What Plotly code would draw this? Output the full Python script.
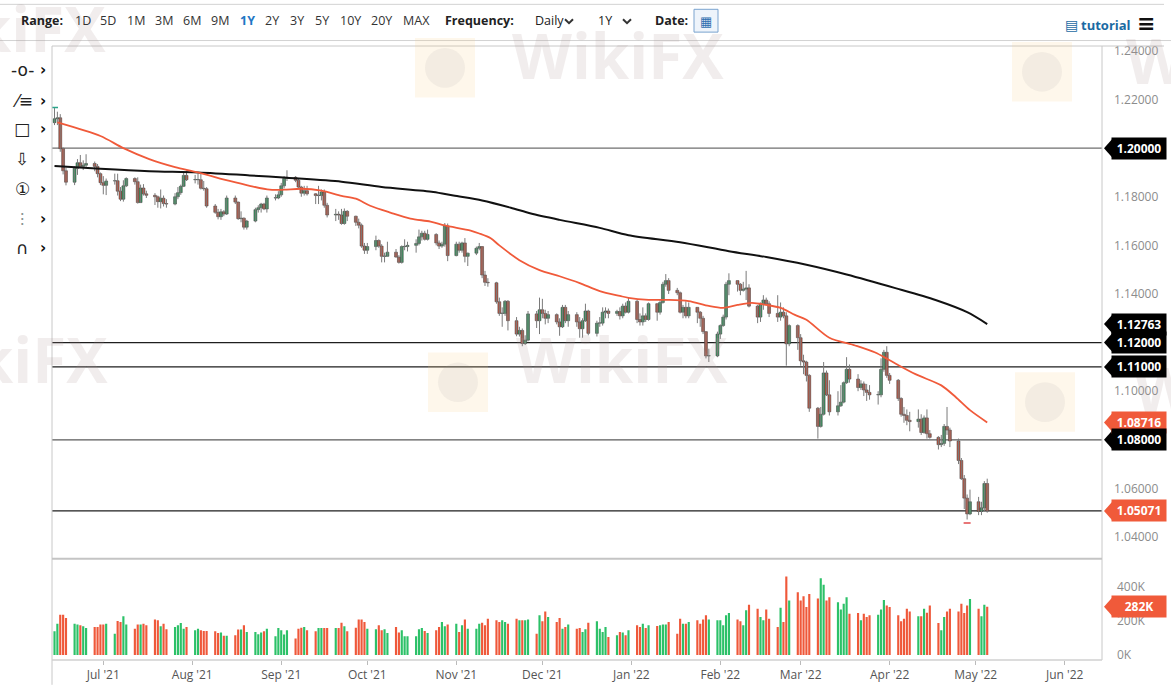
import plotly.graph_objects as go
import pandas as pd

# ---------------- DATA ----------------
START_DATE = "2021-06-14"
END_DATE = "2022-05-05"

opens = [
    # Jun 2021
    1.2105, 1.2121, 1.2125, 1.1998, 1.1907, 1.1860, 1.1917, 1.1940, 1.1925, 1.1930, 1.1937, 1.1925, 1.1895,
    # Jul
    1.1858, 1.1847, 1.1865, 1.1866, 1.1823, 1.1790, 1.1845, 1.1875, 1.1862, 1.1776, 1.1836, 1.1812, 1.1806,
    1.1800, 1.1780, 1.1794, 1.1772, 1.1770, 1.1800, 1.1817, 1.1843, 1.1888,
    # Aug
    1.1870, 1.1870, 1.1870, 1.1835, 1.1833, 1.1762, 1.1736, 1.1718, 1.1738, 1.1729, 1.1795, 1.1778, 1.1710,
    1.1712, 1.1675, 1.1700, 1.1747, 1.1755, 1.1770, 1.1750, 1.1795, 1.1795,
    # Sep
    1.1808, 1.1845, 1.1875, 1.1880, 1.1868, 1.1840, 1.1815, 1.1825, 1.1812, 1.1805, 1.1805, 1.1820, 1.1765,
    1.1725, 1.1728, 1.1725, 1.1690, 1.1740, 1.1720, 1.1695, 1.1683, 1.1597,
    # Oct
    1.1580, 1.1595, 1.1620, 1.1597, 1.1555, 1.1555, 1.1572, 1.1552, 1.1530, 1.1595, 1.1595, 1.1600, 1.1608,
    1.1635, 1.1650, 1.1625, 1.1645, 1.1610, 1.1597, 1.1605, 1.1680,
    # Nov
    1.1558, 1.1605, 1.1580, 1.1610, 1.1555, 1.1568, 1.1588, 1.1595, 1.1478, 1.1448, 1.1446, 1.1368, 1.1320,
    1.1320, 1.1370, 1.1290, 1.1235, 1.1250, 1.1196, 1.1210, 1.1318, 1.1290,
    # Dec
    1.1335, 1.1320, 1.1300, 1.1315, 1.1285, 1.1265, 1.1345, 1.1290, 1.1315, 1.1285, 1.1257, 1.1290, 1.1330,
    1.1238, 1.1280, 1.1280, 1.1325, 1.1330, 1.1320, 1.1328, 1.1310, 1.1350, 1.1325,
    # Jan 2022
    1.1370, 1.1295, 1.1285, 1.1310, 1.1295, 1.1360, 1.1325, 1.1365, 1.1440, 1.1455, 1.1415, 1.1405, 1.1325,
    1.1345, 1.1310, 1.1345, 1.1325, 1.1300, 1.1245, 1.1145, 1.1145,
    # Feb
    1.1235, 1.1270, 1.1305, 1.1440, 1.1455, 1.1440, 1.1415, 1.1420, 1.1425, 1.1350, 1.1305, 1.1360, 1.1375,
    1.1360, 1.1320, 1.1305, 1.1325, 1.1310, 1.1195, 1.1270,
    # Mar
    1.1220, 1.1125, 1.1120, 1.1065, 1.0930, 1.0855, 1.0905, 1.1075, 1.0985, 1.0915, 1.0940, 1.0955, 1.1035,
    1.1090, 1.1050, 1.1015, 1.1030, 1.1005, 1.0995, 1.0985, 1.0985, 1.1090, 1.1160,
    # Apr
    1.1065, 1.1045, 1.0970, 1.0905, 1.0900, 1.0880, 1.0875, 1.0885, 1.0830, 1.0890, 1.0825, 1.0810, 1.0780,
    1.0785, 1.0855, 1.0840, 1.0795, 1.0715, 1.0640, 1.0560, 1.0495,
    # May
    1.0545, 1.0505, 1.0520, 1.0620,
]

highs = [
    1.2165, 1.2150, 1.2140, 1.2003, 1.1920, 1.1925, 1.1955, 1.1972, 1.1950, 1.1975, 1.1945, 1.1935, 1.1900,
    1.1885, 1.1875, 1.1895, 1.1895, 1.1840, 1.1868, 1.1880, 1.1880, 1.1880, 1.1850, 1.1852, 1.1825, 1.1815,
    1.1805, 1.1830, 1.1805, 1.1790, 1.1815, 1.1840, 1.1850, 1.1905, 1.1908,
    1.1890, 1.1895, 1.1900, 1.1865, 1.1840, 1.1770, 1.1750, 1.1750, 1.1745, 1.1805, 1.1805, 1.1780, 1.1740,
    1.1715, 1.1705, 1.1755, 1.1765, 1.1775, 1.1775, 1.1805, 1.1810, 1.1823,
    1.1857, 1.1885, 1.1909, 1.1885, 1.1875, 1.1845, 1.1845, 1.1845, 1.1815, 1.1845, 1.1830, 1.1830, 1.1775,
    1.1750, 1.1740, 1.1750, 1.1752, 1.1745, 1.1722, 1.1710, 1.1690, 1.1610,
    1.1610, 1.1640, 1.1625, 1.1605, 1.1570, 1.1615, 1.1585, 1.1560, 1.1600, 1.1625, 1.1615, 1.1625, 1.1665,
    1.1660, 1.1660, 1.1665, 1.1650, 1.1620, 1.1615, 1.1692, 1.1690,
    1.1615, 1.1615, 1.1615, 1.1630, 1.1570, 1.1595, 1.1610, 1.1595, 1.1495, 1.1465, 1.1450, 1.1385, 1.1345,
    1.1375, 1.1375, 1.1305, 1.1265, 1.1258, 1.1230, 1.1330, 1.1330, 1.1385,
    1.1380, 1.1335, 1.1330, 1.1320, 1.1300, 1.1355, 1.1355, 1.1330, 1.1325, 1.1305, 1.1300, 1.1360, 1.1335,
    1.1290, 1.1305, 1.1345, 1.1345, 1.1340, 1.1335, 1.1345, 1.1360, 1.1365, 1.1385,
    1.1375, 1.1320, 1.1345, 1.1320, 1.1365, 1.1360, 1.1375, 1.1450, 1.1482, 1.1465, 1.1425, 1.1410, 1.1355,
    1.1370, 1.1365, 1.1345, 1.1330, 1.1310, 1.1245, 1.1175, 1.1245,
    1.1275, 1.1315, 1.1450, 1.1485, 1.1455, 1.1445, 1.1450, 1.1495, 1.1440, 1.1355, 1.1365, 1.1395, 1.1385,
    1.1370, 1.1395, 1.1365, 1.1345, 1.1325, 1.1275, 1.1275,
    1.1235, 1.1150, 1.1125, 1.1070, 1.0935, 1.0935, 1.1120, 1.1085, 1.1045, 1.1000, 1.1025, 1.1040, 1.1140,
    1.1110, 1.1070, 1.1045, 1.1040, 1.1030, 1.1025, 1.1000, 1.1135, 1.1170, 1.1185,
    1.1075, 1.1050, 1.0975, 1.0935, 1.0925, 1.0915, 1.0925, 1.0905, 1.0900, 1.0925, 1.0840, 1.0815, 1.0820,
    1.0865, 1.0935, 1.0850, 1.0805, 1.0725, 1.0655, 1.0575, 1.0595,
    1.0565, 1.0545, 1.0630, 1.0640,
]

lows = [
    1.2095, 1.2095, 1.1985, 1.1892, 1.1847, 1.1848, 1.1890, 1.1920, 1.1910, 1.1920, 1.1905, 1.1880, 1.1848,
    1.1810, 1.1807, 1.1850, 1.1805, 1.1782, 1.1780, 1.1840, 1.1850, 1.1772, 1.1775, 1.1805, 1.1795, 1.1766,
    1.1755, 1.1752, 1.1760, 1.1755, 1.1765, 1.1790, 1.1808, 1.1840, 1.1865,
    1.1855, 1.1850, 1.1830, 1.1825, 1.1755, 1.1730, 1.1707, 1.1705, 1.1720, 1.1725, 1.1770, 1.1705, 1.1695,
    1.1665, 1.1665, 1.1695, 1.1735, 1.1735, 1.1745, 1.1735, 1.1785, 1.1790,
    1.1800, 1.1835, 1.1865, 1.1860, 1.1835, 1.1800, 1.1805, 1.1805, 1.1770, 1.1770, 1.1785, 1.1755, 1.1715,
    1.1700, 1.1705, 1.1685, 1.1685, 1.1700, 1.1680, 1.1670, 1.1590, 1.1565,
    1.1565, 1.1580, 1.1590, 1.1530, 1.1530, 1.1555, 1.1550, 1.1525, 1.1525, 1.1580, 1.1575, 1.1570, 1.1600,
    1.1620, 1.1620, 1.1620, 1.1600, 1.1585, 1.1590, 1.1595, 1.1535,
    1.1555, 1.1570, 1.1570, 1.1530, 1.1515, 1.1560, 1.1580, 1.1465, 1.1433, 1.1430, 1.1360, 1.1310, 1.1265,
    1.1310, 1.1250, 1.1226, 1.1225, 1.1185, 1.1190, 1.1205, 1.1260, 1.1235,
    1.1300, 1.1275, 1.1280, 1.1275, 1.1228, 1.1260, 1.1280, 1.1265, 1.1265, 1.1220, 1.1220, 1.1285, 1.1230,
    1.1225, 1.1265, 1.1270, 1.1300, 1.1300, 1.1310, 1.1295, 1.1300, 1.1320, 1.1320,
    1.1280, 1.1270, 1.1270, 1.1285, 1.1290, 1.1290, 1.1315, 1.1360, 1.1430, 1.1400, 1.1395, 1.1320, 1.1300,
    1.1300, 1.1300, 1.1280, 1.1265, 1.1235, 1.1135, 1.1120, 1.1140,
    1.1215, 1.1265, 1.1295, 1.1395, 1.1410, 1.1395, 1.1410, 1.1375, 1.1345, 1.1280, 1.1285, 1.1335, 1.1355,
    1.1305, 1.1285, 1.1290, 1.1300, 1.1105, 1.1185, 1.1170,
    1.1105, 1.1070, 1.1040, 1.0915, 1.0805, 1.0850, 1.0900, 1.0980, 1.0900, 1.0900, 1.0935, 1.0950, 1.1030,
    1.1035, 1.1000, 1.1005, 1.0980, 1.0960, 1.0965, 1.0945, 1.0975, 1.1080, 1.1055,
    1.1030, 1.0960, 1.0895, 1.0870, 1.0860, 1.0835, 1.0850, 1.0820, 1.0825, 1.0805, 1.0805, 1.0760, 1.0770,
    1.0775, 1.0820, 1.0770, 1.0700, 1.0635, 1.0515, 1.0472, 1.0490,
    1.0490, 1.0490, 1.0505, 1.0500,
]

closes = [
    1.2121, 1.2125, 1.1998, 1.1907, 1.1860, 1.1917, 1.1940, 1.1925, 1.1930, 1.1937, 1.1925, 1.1895, 1.1858,
    1.1847, 1.1865, 1.1866, 1.1823, 1.1790, 1.1845, 1.1875, 1.1862, 1.1776, 1.1836, 1.1812, 1.1806, 1.1800,
    1.1780, 1.1794, 1.1772, 1.1770, 1.1800, 1.1817, 1.1843, 1.1888, 1.1870,
    1.1870, 1.1870, 1.1835, 1.1833, 1.1762, 1.1736, 1.1718, 1.1738, 1.1729, 1.1795, 1.1778, 1.1710, 1.1712,
    1.1675, 1.1700, 1.1747, 1.1755, 1.1770, 1.1750, 1.1795, 1.1795, 1.1808,
    1.1845, 1.1875, 1.1880, 1.1868, 1.1840, 1.1815, 1.1825, 1.1812, 1.1805, 1.1805, 1.1820, 1.1765, 1.1725,
    1.1728, 1.1725, 1.1690, 1.1740, 1.1720, 1.1695, 1.1683, 1.1597, 1.1580,
    1.1595, 1.1620, 1.1597, 1.1555, 1.1555, 1.1572, 1.1552, 1.1530, 1.1595, 1.1595, 1.1600, 1.1608, 1.1635,
    1.1650, 1.1625, 1.1645, 1.1610, 1.1597, 1.1605, 1.1680, 1.1558,
    1.1605, 1.1580, 1.1610, 1.1555, 1.1568, 1.1588, 1.1595, 1.1478, 1.1448, 1.1446, 1.1368, 1.1320, 1.1320,
    1.1370, 1.1290, 1.1235, 1.1250, 1.1196, 1.1210, 1.1318, 1.1290, 1.1335,
    1.1320, 1.1300, 1.1315, 1.1285, 1.1265, 1.1345, 1.1290, 1.1315, 1.1285, 1.1257, 1.1290, 1.1330, 1.1238,
    1.1280, 1.1280, 1.1325, 1.1330, 1.1320, 1.1328, 1.1310, 1.1350, 1.1325, 1.1370,
    1.1295, 1.1285, 1.1310, 1.1295, 1.1360, 1.1325, 1.1365, 1.1440, 1.1455, 1.1415, 1.1405, 1.1325, 1.1345,
    1.1310, 1.1345, 1.1325, 1.1300, 1.1245, 1.1145, 1.1145, 1.1235,
    1.1270, 1.1305, 1.1440, 1.1455, 1.1440, 1.1415, 1.1420, 1.1425, 1.1350, 1.1305, 1.1360, 1.1375, 1.1360,
    1.1320, 1.1305, 1.1325, 1.1310, 1.1195, 1.1270, 1.1220,
    1.1125, 1.1120, 1.1065, 1.0930, 1.0855, 1.0905, 1.1075, 1.0985, 1.0915, 1.0940, 1.0955, 1.1035, 1.1090,
    1.1050, 1.1015, 1.1030, 1.1005, 1.0995, 1.0985, 1.0985, 1.1090, 1.1160, 1.1065,
    1.1045, 1.0970, 1.0905, 1.0900, 1.0880, 1.0875, 1.0885, 1.0830, 1.0890, 1.0825, 1.0810, 1.0780, 1.0785,
    1.0855, 1.0840, 1.0795, 1.0715, 1.0640, 1.0560, 1.0495, 1.0545,
    1.0505, 1.0520, 1.0620, 1.05071,
]

volumes_k = [
    139, 183, 235, 235, 216, 183, 178, 174, 168, 158,
    164, 164, 179, 179, 183, 125, 199, 193, 226, 179,
    154, 179, 179, 183, 174, 208, 203, 168, 183, 151,
    164, 174, 187, 154, 164, 145, 154, 145, 141, 141,
    139, 129, 131, 112, 112, 116, 149, 149, 174, 135,
    135, 122, 131, 139, 154, 110, 158, 145, 120, 145,
    97, 154, 160, 164, 145, 139, 158, 158, 158, 158,
    158, 158, 189, 168, 139, 160, 207, 207, 193, 154,
    151, 174, 145, 151, 129, 164, 131, 145, 110, 110,
    110, 151, 158, 141, 129, 145, 164, 193, 168, 178,
    183, 135, 174, 207, 154, 154, 183, 189, 174, 212,
    203, 193, 203, 193, 183,
    212, 203, 203, 203, 208, 125, 232, 197, 255, 222,
    193, 216, 154, 164, 178, 154, 158, 135, 151, 189,
    197, 154, 135, 164, 106, 116, 135, 131, 116, 145,
    174, 164, 183, 158, 174, 170, 174, 178, 178, 193,
    125, 212, 183, 183, 193, 203, 183, 208, 232, 207,
    203, 203, 174, 232, 245, 208, 197, 174, 261, 293,
    270, 222, 203, 266, 212, 164, 276, 193, 459, 318,
    367, 318, 344, 280, 357, 330, 448, 411, 318, 338,
    309, 266, 299, 338, 241, 245, 203, 241, 222, 232,
    235, 266, 322, 290, 280, 232, 197, 212, 270, 255,
    226, 226, 270, 247, 290, 187, 145, 222, 255, 270,
    255, 299, 245, 290, 328, 270, 226, 293, 282,
]

ma50_dates = [
    "2021-06-15", "2021-06-30", "2021-07-08", "2021-07-17", "2021-07-26", "2021-08-03", "2021-08-14",
    "2021-08-21", "2021-08-28", "2021-09-02", "2021-09-08", "2021-09-15", "2021-09-22", "2021-09-27",
    "2021-10-02", "2021-10-09", "2021-10-16", "2021-10-23", "2021-10-28", "2021-11-06", "2021-11-09",
    "2021-11-13", "2021-11-16", "2021-11-23", "2021-11-30", "2021-12-07", "2021-12-14", "2021-12-21",
    "2021-12-28", "2021-12-31", "2022-01-07", "2022-01-14", "2022-01-21", "2022-01-28", "2022-02-02",
    "2022-02-07", "2022-02-12", "2022-02-17", "2022-02-22", "2022-02-27", "2022-03-03", "2022-03-11",
    "2022-03-20", "2022-03-27", "2022-04-01", "2022-04-10", "2022-04-19", "2022-04-24", "2022-04-29",
    "2022-05-05",
]
ma50_values = [
    1.2106, 1.2050, 1.2000, 1.1955, 1.1922, 1.1900, 1.1865, 1.1845, 1.1829, 1.1829, 1.1833, 1.1825,
    1.1804, 1.1792, 1.1763, 1.1735, 1.1710, 1.1698, 1.1682, 1.1661, 1.1649, 1.1629, 1.1600, 1.1539,
    1.1498, 1.1473, 1.1445, 1.1412, 1.1392, 1.1384, 1.1376, 1.1376, 1.1371, 1.1351, 1.1343, 1.1355,
    1.1363, 1.1355, 1.1343, 1.1314, 1.1294, 1.1220, 1.1188, 1.1159, 1.1127, 1.1070, 1.1024, 1.0976,
    1.0922, 1.08716,
]

ma200_dates = [
    "2021-06-14", "2021-06-30", "2021-07-17", "2021-08-03", "2021-08-21", "2021-09-03", "2021-09-22",
    "2021-10-06", "2021-10-24", "2021-10-31", "2021-11-10", "2021-11-20", "2021-11-27", "2021-12-07",
    "2021-12-21", "2021-12-31", "2022-01-18", "2022-02-04", "2022-02-17", "2022-03-03", "2022-03-17",
    "2022-04-03", "2022-04-17", "2022-04-28", "2022-05-05",
]
ma200_values = [
    1.1927, 1.1915, 1.1905, 1.1900, 1.1888, 1.1878, 1.1862, 1.1840, 1.1820, 1.1805, 1.1785, 1.1755,
    1.1731, 1.1705, 1.1672, 1.1642, 1.1613, 1.1576, 1.1552, 1.1520, 1.1480, 1.1424, 1.1375, 1.1325,
    1.12763,
]

level_lines = [1.20, 1.12, 1.11, 1.08]
level_colors = ["#6f6f6f", "#1e1e1e", "#1e1e1e", "#5a5a5a"]
last_price = 1.05071
last_volume_k = 282
period_high = ("2021-06-14", 1.2167)
period_low = ("2022-04-28", 1.0458)

price_ticks = [1.04, 1.06, 1.08, 1.10, 1.12, 1.14, 1.16, 1.18, 1.20, 1.22, 1.24]
volume_ticks = [0, 200, 400]
range_buttons = ["1D", "5D", "1M", "3M", "6M", "9M", "1Y", "2Y", "3Y", "5Y", "10Y", "20Y", "MAX"]

# ---------------- FIGURE ----------------
dates = pd.bdate_range(START_DATE, END_DATE)
assert len(dates) == len(opens) == len(highs) == len(lows) == len(closes) == len(volumes_k), (
    len(dates), len(opens), len(highs), len(lows), len(closes), len(volumes_k))

W, H = 1171, 695
ML, MR, MT, MB = 52, 69, 46, 30
PW, PH = W - ML - MR, H - MT - MB
VOL_TOP = 563  # pixel y of the price / volume split
DAY_MS = 86400000


def px(x):
    return (x - ML) / PW


def py(y):
    return (H - MB - y) / PH


vol_split = py(VOL_TOP)
FONT = "Open Sans, DejaVu Sans, sans-serif"
GREEN_C, RED_C = "#2f9d5c", "#c9503a"
GREEN_V, RED_V = "#2cc168", "#ef583a"
MA50_C = "#f05a3a"

fig = go.Figure()

# candle wicks
wx, wy = [], []
for d, h, l in zip(dates, highs, lows):
    wx += [d, d, None]
    wy += [l, h, None]
fig.add_trace(go.Scatter(x=wx, y=wy, mode="lines", line=dict(color="#7a7a7a", width=1),
                         xaxis="x", yaxis="y", hoverinfo="skip", connectgaps=False))

# candle bodies
body_base = [min(o, c) for o, c in zip(opens, closes)]
body_len = [max(abs(c - o), 0.00012) for o, c in zip(opens, closes)]
body_col = [GREEN_C if c >= o else RED_C for o, c in zip(opens, closes)]
fig.add_trace(go.Bar(x=dates, y=body_len, base=body_base, width=DAY_MS * 1.0,
                     marker=dict(color=body_col, line=dict(color="#444444", width=0.6)),
                     xaxis="x", yaxis="y", hoverinfo="skip"))

fig.add_trace(go.Scatter(x=pd.to_datetime(ma200_dates), y=ma200_values, mode="lines",
                         line=dict(color="#111111", width=2, shape="spline", smoothing=0.8),
                         xaxis="x", yaxis="y", hoverinfo="skip"))
fig.add_trace(go.Scatter(x=pd.to_datetime(ma50_dates), y=ma50_values, mode="lines",
                         line=dict(color=MA50_C, width=1.8, shape="spline", smoothing=0.8),
                         xaxis="x", yaxis="y", hoverinfo="skip"))

fig.add_trace(go.Scatter(x=[period_high[0]], y=[period_high[1]], mode="markers",
                         marker=dict(symbol="line-ew", size=5, line=dict(color="#2aa58a", width=1.5)),
                         xaxis="x", yaxis="y", hoverinfo="skip"))
fig.add_trace(go.Scatter(x=[period_low[0]], y=[period_low[1]], mode="markers",
                         marker=dict(symbol="line-ew", size=5, line=dict(color="#e0484a", width=1.5)),
                         xaxis="x", yaxis="y", hoverinfo="skip"))

vol_colors = [GREEN_V if c >= o else RED_V for o, c in zip(opens, closes)]
fig.add_trace(go.Bar(x=dates, y=volumes_k, width=DAY_MS * 0.75,
                     marker=dict(color=vol_colors, line=dict(width=0)),
                     xaxis="x", yaxis="y2", hoverinfo="skip"))

shapes = []
for lv, col in zip(level_lines, level_colors):
    shapes.append(dict(type="line", xref="paper", yref="y", x0=0, x1=1, y0=lv, y1=lv,
                       line=dict(color=col, width=1.3), layer="below"))
shapes.append(dict(type="line", xref="paper", yref="y", x0=0, x1=1, y0=last_price, y1=last_price,
                   line=dict(color="#1e1e1e", width=1.3), layer="below"))

border = "#c8c8c8"
shapes += [
    dict(type="line", xref="paper", yref="paper", x0=px(0), x1=px(1164), y0=py(4), y1=py(4),
         line=dict(color="#d2d2d2", width=1)),
    dict(type="line", xref="paper", yref="paper", x0=px(0), x1=px(1171), y0=py(40.5), y1=py(40.5),
         line=dict(color="#d2d2d2", width=1)),
    dict(type="line", xref="paper", yref="paper", x0=0, x1=px(1164), y0=1, y1=1,
         line=dict(color=border, width=1)),
    dict(type="line", xref="paper", yref="paper", x0=0, x1=0, y0=py(690), y1=1,
         line=dict(color=border, width=1)),
    dict(type="line", xref="paper", yref="paper", x0=1, x1=1, y0=0, y1=1,
         line=dict(color=border, width=1)),
    dict(type="line", xref="paper", yref="paper", x0=0, x1=1, y0=vol_split, y1=vol_split,
         line=dict(color="#c4c4c4", width=2)),
    dict(type="line", xref="paper", yref="paper", x0=0, x1=1, y0=0, y1=0,
         line=dict(color="#d0d0d0", width=1.5)),
]

for cx, cy in [(445, 68), (458, 385), (1042, 72), (1045, 405)]:
    shapes.append(dict(type="rect", xref="paper", yref="paper",
                       x0=px(cx - 30), x1=px(cx + 30), y0=py(cy + 30), y1=py(cy - 30),
                       fillcolor="rgba(250,205,130,0.16)", line=dict(width=0), layer="above"))
    shapes.append(dict(type="circle", xref="paper", yref="paper",
                       x0=px(cx - 20), x1=px(cx + 20), y0=py(cy + 20), y1=py(cy - 20),
                       fillcolor="rgba(150,150,150,0.10)", line=dict(width=0), layer="above"))

annotations = []
for cx, cy in [(618, 55), (0, 28), (1232, 60), (622, 362), (2, 362), (1240, 392)]:
    annotations.append(dict(xref="paper", yref="paper", x=px(cx), y=py(cy), text="<b>WikiFX</b>",
                            showarrow=False, font=dict(family=FONT, size=62, color="rgba(170,150,150,0.17)"),
                            xanchor="center", yanchor="middle"))


def tag(value, yref, color, text):
    shapes.append(dict(type="path", xref="paper", yref=yref, xsizemode="pixel", ysizemode="pixel",
                       xanchor=1, yanchor=value, path="M 2,0 L 10,9 L 10,-9 Z",
                       fillcolor=color, line=dict(width=0), layer="above"))
    annotations.append(dict(xref="paper", yref=yref, x=px(1111), y=value, text=f"<b>{text}</b>",
                            showarrow=False, xanchor="left", yanchor="middle", bgcolor=color,
                            font=dict(family=FONT, size=12, color="white"), borderpad=2, width=50,
                            align="center"))


tag(1.20, "y", "#000000", "1.20000")
tag(ma200_values[-1], "y", "#000000", f"{ma200_values[-1]:.5f}")
tag(1.12, "y", "#000000", "1.12000")
tag(1.11, "y", "#000000", "1.11000")
tag(ma50_values[-1], "y", "#f05a3a", f"{ma50_values[-1]:.5f}")
tag(1.08, "y", "#000000", "1.08000")
tag(last_price, "y", "#f05a3a", f"{last_price:.5f}")
tag(last_volume_k, "y2", "#f05a3a", f"{last_volume_k}K")

TY = py(20)
TB = 12.5
annotations.append(dict(xref="paper", yref="paper", x=px(19), y=TY, text="<b>Range:</b>", showarrow=False,
                        xanchor="left", yanchor="middle", font=dict(family=FONT, size=TB, color="#222")))
btn_x = [73, 98, 125, 153, 181, 209, 238, 263, 288, 313, 338, 369, 401]
for lab, bx in zip(range_buttons, btn_x):
    sel = lab == "1Y"
    annotations.append(dict(xref="paper", yref="paper", x=px(bx), y=TY,
                            text=f"<b>{lab}</b>" if sel else lab, showarrow=False,
                            xanchor="left", yanchor="middle",
                            font=dict(family=FONT, size=TB, color="#1f77c4" if sel else "#333")))
for txt, bx, bold in [("Frequency:", 443, True), ("Daily", 533, False), ("1Y", 596, False), ("Date:", 653, True)]:
    annotations.append(dict(xref="paper", yref="paper", x=px(bx), y=TY,
                            text=f"<b>{txt}</b>" if bold else txt, showarrow=False,
                            xanchor="left", yanchor="middle", font=dict(family=FONT, size=TB, color="#222")))
for cxv in [569, 627]:
    shapes.append(dict(type="path", xref="paper", yref="paper",
                       path=f"M {px(cxv-4)},{py(19)} L {px(cxv)},{py(23)} L {px(cxv+4)},{py(19)}",
                       line=dict(color="#333", width=2)))
shapes.append(dict(type="rect", xref="paper", yref="paper", x0=px(694), x1=px(718), y0=py(32), y1=py(9),
                   fillcolor="#eef4fb", line=dict(color="#7aa3cf", width=1)))
annotations.append(dict(xref="paper", yref="paper", x=px(706), y=py(21), text="▦", showarrow=False,
                        xanchor="center", yanchor="middle",
                        font=dict(family="DejaVu Sans", size=13, color="#2f6fb0")))
annotations.append(dict(xref="paper", yref="paper", x=px(1063), y=py(25), text="▤", showarrow=False,
                        xanchor="left", yanchor="middle", font=dict(family="DejaVu Sans", size=14, color="#1a6aa3")))
annotations.append(dict(xref="paper", yref="paper", x=px(1079), y=py(25), text="<b>tutorial</b>", showarrow=False,
                        xanchor="left", yanchor="middle", font=dict(family=FONT, size=13, color="#1a6aa3")))
annotations.append(dict(xref="paper", yref="paper", x=px(1146), y=py(23), text="<b>≡</b>", showarrow=False,
                        xanchor="center", yanchor="middle", font=dict(family="DejaVu Sans", size=22, color="#111")))

icons = ["-o-", "⁄≡", "□", "⇩", "①", "⫶", "∩"]
icon_y = [70, 101, 130, 160, 190, 220, 250]
for ic, iy in zip(icons, icon_y):
    annotations.append(dict(xref="paper", yref="paper", x=px(22), y=py(iy), text=ic, showarrow=False,
                            xanchor="center", yanchor="middle",
                            font=dict(family="DejaVu Sans, Noto Sans CJK SC", size=17, color="#222")))
    annotations.append(dict(xref="paper", yref="paper", x=px(43), y=py(iy), text="<b>›</b>", showarrow=False,
                            xanchor="center", yanchor="middle",
                            font=dict(family="DejaVu Sans", size=15, color="#111")))

fig.update_layout(
    width=W, height=H,
    margin=dict(l=ML, r=MR, t=MT, b=MB),
    paper_bgcolor="white", plot_bgcolor="white",
    showlegend=False, barmode="overlay",
    font=dict(family=FONT, size=12, color="#555"),
    xaxis=dict(type="date", range=["2021-06-13 03:00", "2022-06-14"], domain=[0, 1], anchor="y2",
               showgrid=False, zeroline=False, showline=False,
               tick0="2021-07-01", dtick="M1", tickformat="%b '%y",
               ticks="outside", ticklen=4, tickcolor="#bbbbbb",
               tickfont=dict(family=FONT, size=12, color="#555"),
               rangeslider=dict(visible=False), fixedrange=True),
    yaxis=dict(domain=[vol_split, 1], range=[1.03102, 1.24204], side="right", anchor="x",
               showgrid=False, zeroline=False, showline=False, ticks="",
               tickvals=price_ticks, ticktext=[f"{v:.5f}" for v in price_ticks],
               tickfont=dict(family=FONT, size=12, color="#8c8c8c"), ticklabelstandoff=11,
               fixedrange=True),
    yaxis2=dict(domain=[0, vol_split], range=[-29, 562], side="right", anchor="x",
                showgrid=False, zeroline=False, showline=False, ticks="",
                tickvals=volume_ticks, ticktext=[f"{v}K" for v in volume_ticks],
                tickfont=dict(family=FONT, size=12, color="#8c8c8c"), ticklabelstandoff=14,
                fixedrange=True),
    shapes=shapes,
    annotations=annotations,
)

fig.write_html("out.html", config={"displayModeBar": False},
               post_script="document.body.style.margin='0';document.body.style.padding='0';")
